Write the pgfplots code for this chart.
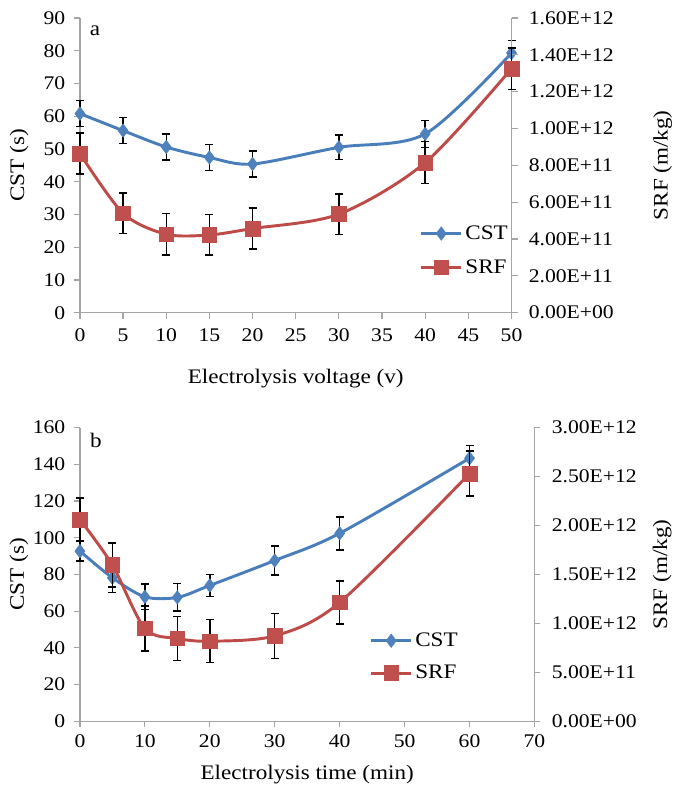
\documentclass[border=0pt]{standalone}
\usepackage{pgfplots}
\pgfplotsset{compat=1.18}
\usepackage{fontspec}
\setmainfont{Liberation Serif}[FakeStretch=1.12]
\definecolor{cstblue}{RGB}{74,126,187}
\definecolor{cstfill}{RGB}{79,129,189}
\definecolor{srfred}{RGB}{190,75,72}
\definecolor{srffill}{RGB}{192,80,77}
\definecolor{axgray}{RGB}{165,165,165}

\pgfplotsset{
  base/.style={
    scale only axis, clip=false,
    /pgf/number format/assume math mode=true,
    tick label style={font=\fontsize{14.5}{16}\selectfont, black},
    label style={font=\fontsize{15.5}{18}\selectfont},
    axis line style={axgray, line width=0.9pt},
    major tick style={axgray, line width=0.9pt},
    tick align=outside, major tick length=4.5pt,
  },
  cst/.style={cstblue, line width=2.2pt, smooth, mark=diamond*, mark size=5pt,
    mark options={fill=cstfill, draw=cstfill, line width=0.5pt}},
  srf/.style={srfred, line width=2.2pt, smooth, mark=square*, mark size=5.5pt,
    mark options={fill=srffill, draw=srffill, line width=0.5pt}},
  eb/.style={error bars/.cd, y dir=both, y explicit,
    error bar style={black, line width=1.1pt, solid},
    error mark options={rotate=90, black, mark size=3pt, line width=1.1pt}},
  legimg/.style={legend image code/.code={
    \draw[##1, mark=none] (0pt,0pt) -- (30pt,0pt);
    \path[##1] plot coordinates {(15pt,0pt)};}},
}

\begin{document}
\begin{tikzpicture}[x=1pt,y=1pt]
\path (0,0) rectangle (506.25,591);

%================ Panel a ================
\begin{axis}[base, at={(60pt,356.25pt)}, anchor=south west,
  width=324pt, height=221.25pt,
  xmin=0, xmax=50, ymin=0, ymax=90,
  xtick={0,5,...,50}, ytick={0,10,...,90},
  axis x line*=bottom, axis y line*=left,
  xticklabel style={yshift=-4pt},
  yticklabel style={xshift=-3pt},
  xlabel={Electrolysis voltage (v)}, ylabel={CST (s)},
  xlabel style={at={(rel axis cs:0.5,-0.225)}, anchor=center},
  ylabel style={at={(rel axis cs:-0.141,0.5)}, anchor=center},
]
\addplot+[cst, eb] coordinates {
  (0,60.8) +- (0,4.0)
  (5,55.6) +- (0,4.0)
  (10,50.6) +- (0,3.9)
  (15,47.4) +- (0,4.0)
  (20,45.4) +- (0,4.0)
  (30,50.5) +- (0,3.7)
  (40,54.6) +- (0,4.1)
  (50,79.3) +- (0,3.9)
};
\node[font=\fontsize{15.5}{17}\selectfont] at (rel axis cs:0.035,0.955) {a};
\end{axis}

\begin{axis}[base, at={(60pt,356.25pt)}, anchor=south west,
  width=324pt, height=221.25pt,
  xmin=0, xmax=50, ymin=0, ymax=16,
  axis x line=none, axis y line*=right,
  ytick={0,2,...,16},
  yticklabels={0.00E+00,2.00E+11,4.00E+11,6.00E+11,8.00E+11,1.00E+12,1.20E+12,1.40E+12,1.60E+12},
  yticklabel style={xshift=5pt},
  ylabel={SRF (m/kg)},
  ylabel style={at={(rel axis cs:1.35,0.5)}, anchor=center, rotate=0},
  legimg,
  legend style={at={(rel axis cs:0.787,0.305)}, anchor=north west, draw=none, fill=none,
    font=\fontsize{15.5}{18}\selectfont, row sep=9.5pt, inner sep=0pt,
    /tikz/every even column/.append style={column sep=0pt}},
  legend cell align=left,
]
\addlegendimage{cst}
\addlegendentry{CST}
\addplot+[srf, eb] coordinates {
  (0,8.64) +- (0,1.12)
  (5,5.40) +- (0,1.10)
  (10,4.26) +- (0,1.12)
  (15,4.22) +- (0,1.10)
  (20,4.57) +- (0,1.12)
  (30,5.35) +- (0,1.10)
  (40,8.15) +- (0,1.13)
  (50,13.25) +- (0,1.12)
};
\addlegendentry{SRF}
\end{axis}

%================ Panel b ================
\begin{axis}[base, at={(60pt,49.5pt)}, anchor=south west,
  width=341.25pt, height=220.5pt,
  xmin=0, xmax=70, ymin=0, ymax=160,
  xtick={0,10,...,70}, ytick={0,20,...,160},
  axis x line*=bottom, axis y line*=left,
  xticklabel style={yshift=-2pt},
  yticklabel style={xshift=-3pt},
  xlabel={Electrolysis time (min)}, ylabel={CST (s)},
  xlabel style={at={(rel axis cs:0.5,-0.18)}, anchor=center},
  ylabel style={at={(rel axis cs:-0.134,0.5)}, anchor=center},
]
\addplot+[cst, eb] coordinates {
  (0,92.7) +- (0,5.5)
  (5,78.2) +- (0,8.0)
  (10,67.8) +- (0,7.0)
  (15,67.5) +- (0,7.5)
  (20,74.0) +- (0,6.0)
  (30,87.6) +- (0,8.0)
  (40,102.4) +- (0,9.0)
  (60,143.3) +- (0,7.0)
};
\node[font=\fontsize{15.5}{17}\selectfont] at (rel axis cs:0.035,0.955) {b};
\end{axis}

\begin{axis}[base, at={(60pt,49.5pt)}, anchor=south west,
  width=341.25pt, height=220.5pt,
  xmin=0, xmax=70, ymin=0, ymax=30,
  axis x line=none, axis y line*=right,
  ytick={0,5,...,30},
  yticklabels={0.00E+00,5.00E+11,1.00E+12,1.50E+12,2.00E+12,2.50E+12,3.00E+12},
  yticklabel style={xshift=5pt},
  ylabel={SRF (m/kg)},
  ylabel style={at={(rel axis cs:1.281,0.5)}, anchor=center, rotate=0},
  legimg,
  legend style={at={(rel axis cs:0.637,0.311)}, anchor=north west, draw=none, fill=none,
    font=\fontsize{15.5}{18}\selectfont, row sep=8.5pt, inner sep=0pt,
    /tikz/every even column/.append style={column sep=0pt}},
  legend cell align=left,
]
\addlegendimage{cst}
\addlegendentry{CST}
\addplot+[srf, eb] coordinates {
  (0,20.6) +- (0,2.2)
  (5,15.96) +- (0,2.25)
  (10,9.48) +- (0,2.3)
  (15,8.46) +- (0,2.25)
  (20,8.18) +- (0,2.2)
  (30,8.73) +- (0,2.3)
  (40,12.14) +- (0,2.2)
  (60,25.3) +- (0,2.3)
};
\addlegendentry{SRF}
\end{axis}
\end{tikzpicture}
\end{document}
